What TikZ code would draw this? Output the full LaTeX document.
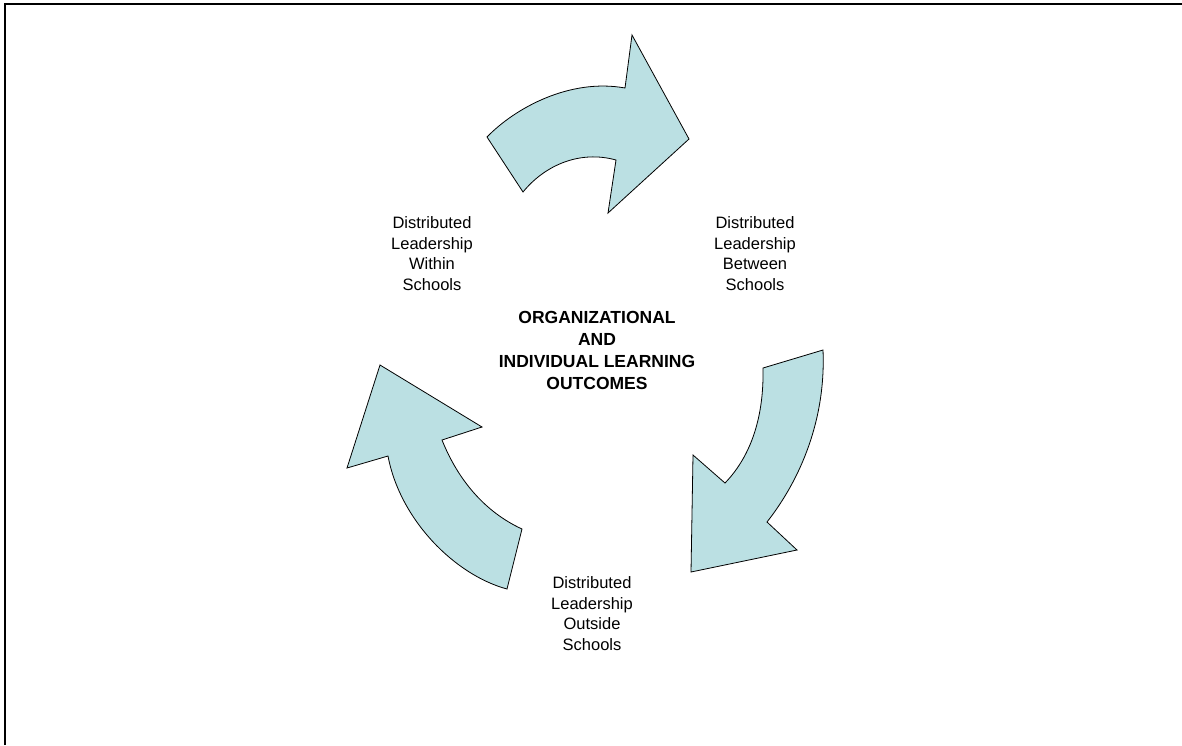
\documentclass[tikz,border=0pt]{standalone}
\usepackage{fontspec}
\setmainfont{Liberation Sans}
\definecolor{arrowfill}{RGB}{187,224,227}
\begin{document}
\begin{tikzpicture}[x=1pt,y=-1pt,
  arrowshape/.style={fill=arrowfill,draw=black,line width=0.8pt,line join=miter},
  lbl/.style={align=center,inner sep=0pt,anchor=north,font=\fontsize{16.5}{20.5}\selectfont},
  ctr/.style={align=center,inner sep=0pt,anchor=north,font=\bfseries\fontsize{17.5}{21.7}\selectfont}]
\useasboundingbox (0,0) rectangle (1182,745);
% frame (top and left)
\coordinate (fa) at (5,745);
\coordinate (fb) at (5,4);
\coordinate (fc) at (1182,4);
\draw[line width=2pt] (fa) -- (fb) -- (fc);
% top arrow
\draw[arrowshape] (487,137) .. controls (515,108) and (570,78) .. (625,88)
  -- (632,35) -- (689,139) -- (608,213) -- (616,160)
  .. controls (580,150) and (545,165) .. (523,192) -- cycle;
% right arrow
\draw[arrowshape] (823,350) -- (763,368)
  .. controls (764,415) and (752,455) .. (725,483)
  -- (693,455) -- (691,572) -- (797,550) -- (767,522)
  .. controls (800,480) and (826,420) .. (823,350) -- cycle;
% left arrow
\draw[arrowshape] (380,365) -- (482,427) -- (442,440)
  .. controls (458,480) and (485,512) .. (522,529)
  -- (507,589) .. controls (455,575) and (400,520) .. (388,456)
  -- (347,468) -- cycle;
% labels
\node[lbl] (within) at (432,216.5) {Distributed\\Leadership\\Within\\Schools};
\node[lbl] (between) at (755,216.5) {Distributed\\Leadership\\Between\\Schools};
\node[lbl] (outside) at (592,576.5) {Distributed\\Leadership\\Outside\\Schools};
\node[ctr] (center) at (597,311.5) {ORGANIZATIONAL\\AND\\INDIVIDUAL LEARNING\\OUTCOMES};
\end{tikzpicture}
\end{document}
